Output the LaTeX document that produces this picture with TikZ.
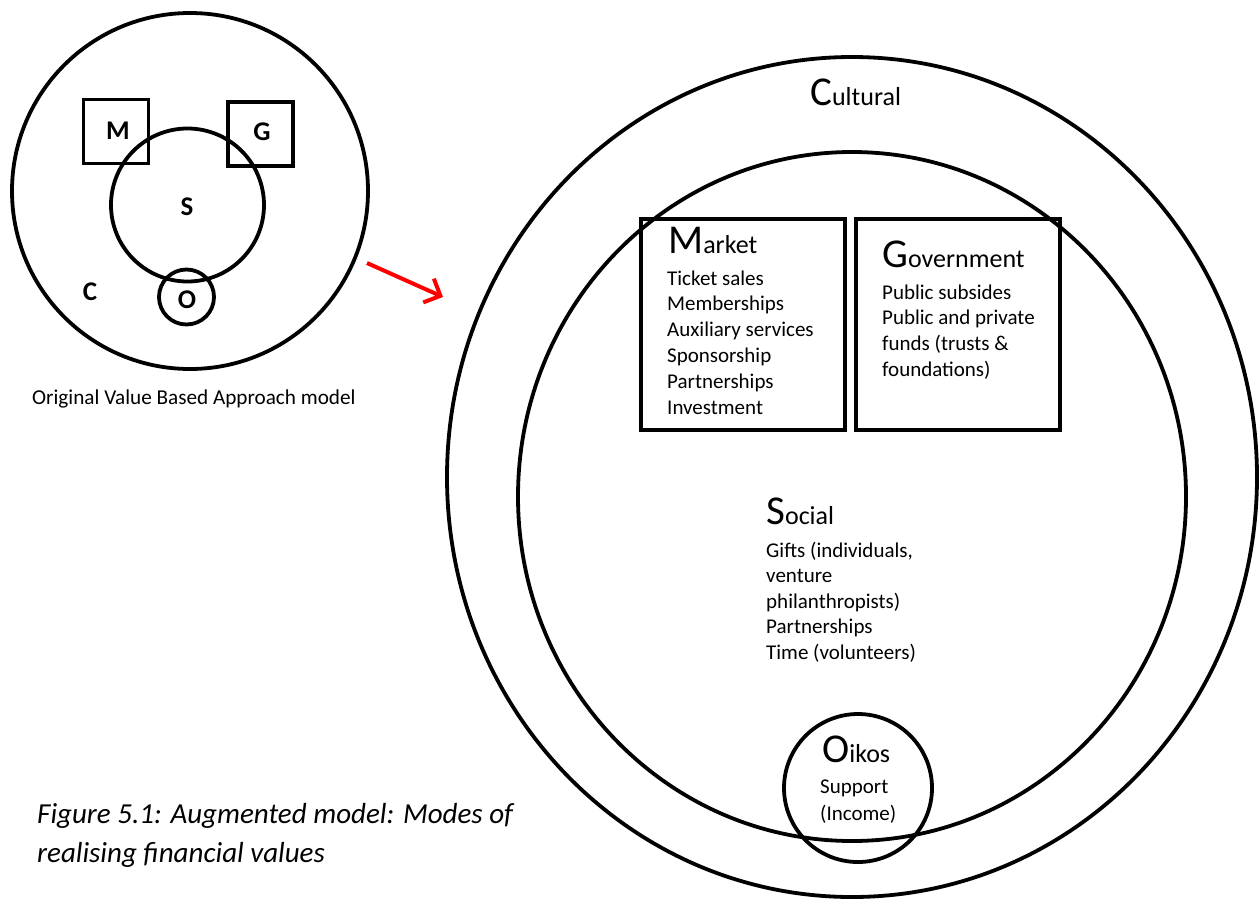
\documentclass[tikz,border=0pt]{standalone}
\usepackage{fontspec}
\setmainfont{Carlito}
\usetikzlibrary{arrows.meta}
\newcommand\headword[2]{{\fontsize{41}{41}\selectfont #1}{\fontsize{26}{26}\selectfont #2}}
\begin{document}
\begin{tikzpicture}[x=1pt,y=-1pt,
  ring/.style={draw=black, line width=3.8pt, circle, inner sep=0pt},
  frame/.style={draw=black, line width=3.8pt, rectangle, inner sep=0pt},
  letter/.style={inner sep=0pt, font=\fontsize{27}{27}\selectfont\bfseries},
  head/.style={anchor=base west, inner sep=0pt},
  item/.style={anchor=base west, inner sep=0pt, font=\fontsize{21}{25}\selectfont},
  note/.style={anchor=base west, inner sep=0pt, font=\fontsize{21.2}{25}\selectfont},
  figcap/.style={anchor=base west, inner sep=0pt, font=\fontsize{29}{34}\selectfont\itshape},
  pointer/.style={draw=red, line width=4pt, -{Straight Barb[length=13pt,width=26pt,line width=4pt]}}]
\useasboundingbox (0,0) rectangle (1260,900);

% ---- small model (top left)
\node[ring, minimum size=356pt] (smallC) at (190,191) {};
\node[frame, minimum width=65pt, minimum height=64pt] (smallM) at (116,131.5) {};
\node[frame, minimum width=65pt, minimum height=64pt] (smallG) at (260.5,134) {};
\node[ring, minimum size=153pt] (smallS) at (187.5,205) {};
\node[ring, minimum size=55pt] (smallO) at (186.5,297) {};
\node[letter] (lM) at (118,131) {M};
\node[letter] (lG) at (262,132) {G};
\node[letter] (lS) at (187,207) {S};
\node[letter] (lO) at (187,300) {O};
\node[letter] (lC) at (90,292) {C};
\node[note] (smallcap) at (32,404) {Original Value Based Approach model};

% ---- arrow from the small model to the augmented one
\coordinate (arrA) at (367,263);
\coordinate (arrB) at (443,297);
\draw[pointer] (arrA) -- (arrB);

% ---- augmented model
\draw[line width=3.8pt] (852,477) ellipse [x radius=405pt, y radius=420pt];
\draw[line width=3.8pt] (852,496.5) ellipse [x radius=334pt, y radius=344.5pt];
\node[ring, minimum size=148pt] (oikos) at (858,788) {};
\node[frame, minimum width=204pt, minimum height=211pt] (market) at (743,324.5) {};
\node[frame, minimum width=204pt, minimum height=211pt] (gov) at (958,324.5) {};

\node[head] (tC) at (810,105) {\headword{C}{ultural}};

\node[head] (tM) at (668,253) {\headword{M}{arket}};
\foreach \t [count=\i] in {Ticket sales, Memberships, Auxiliary services, Sponsorship, Partnerships, Investment}
  \node[item] (mk\i) at (667,{285+25.8*(\i-1)}) {\t};

\node[head] (tG) at (882,267) {\headword{G}{overnment}};
\foreach \t [count=\i] in {Public subsides, Public and private, funds (trusts \&, foundations)}
  \node[item] (gv\i) at (882,{299+25.7*(\i-1)}) {\t};

\node[head] (tS) at (766,524) {\headword{S}{ocial}};
\foreach \t [count=\i] in {{Gifts (individuals,}, venture, philanthropists), Partnerships, Time (volunteers)}
  \node[item] (sc\i) at (766,{557+25.6*(\i-1)}) {\t};

\node[head] (tO) at (822,762) {\headword{O}{ikos}};
\node[item] (ok1) at (820,793) {Support};
\node[item] (ok2) at (820,820) {(Income)};

% ---- caption
\node[figcap] (cap1) at (37,823) {Figure 5.1: Augmented model: Modes of};
\node[figcap] (cap2) at (37,862) {realising financial values};
\end{tikzpicture}
\end{document}
